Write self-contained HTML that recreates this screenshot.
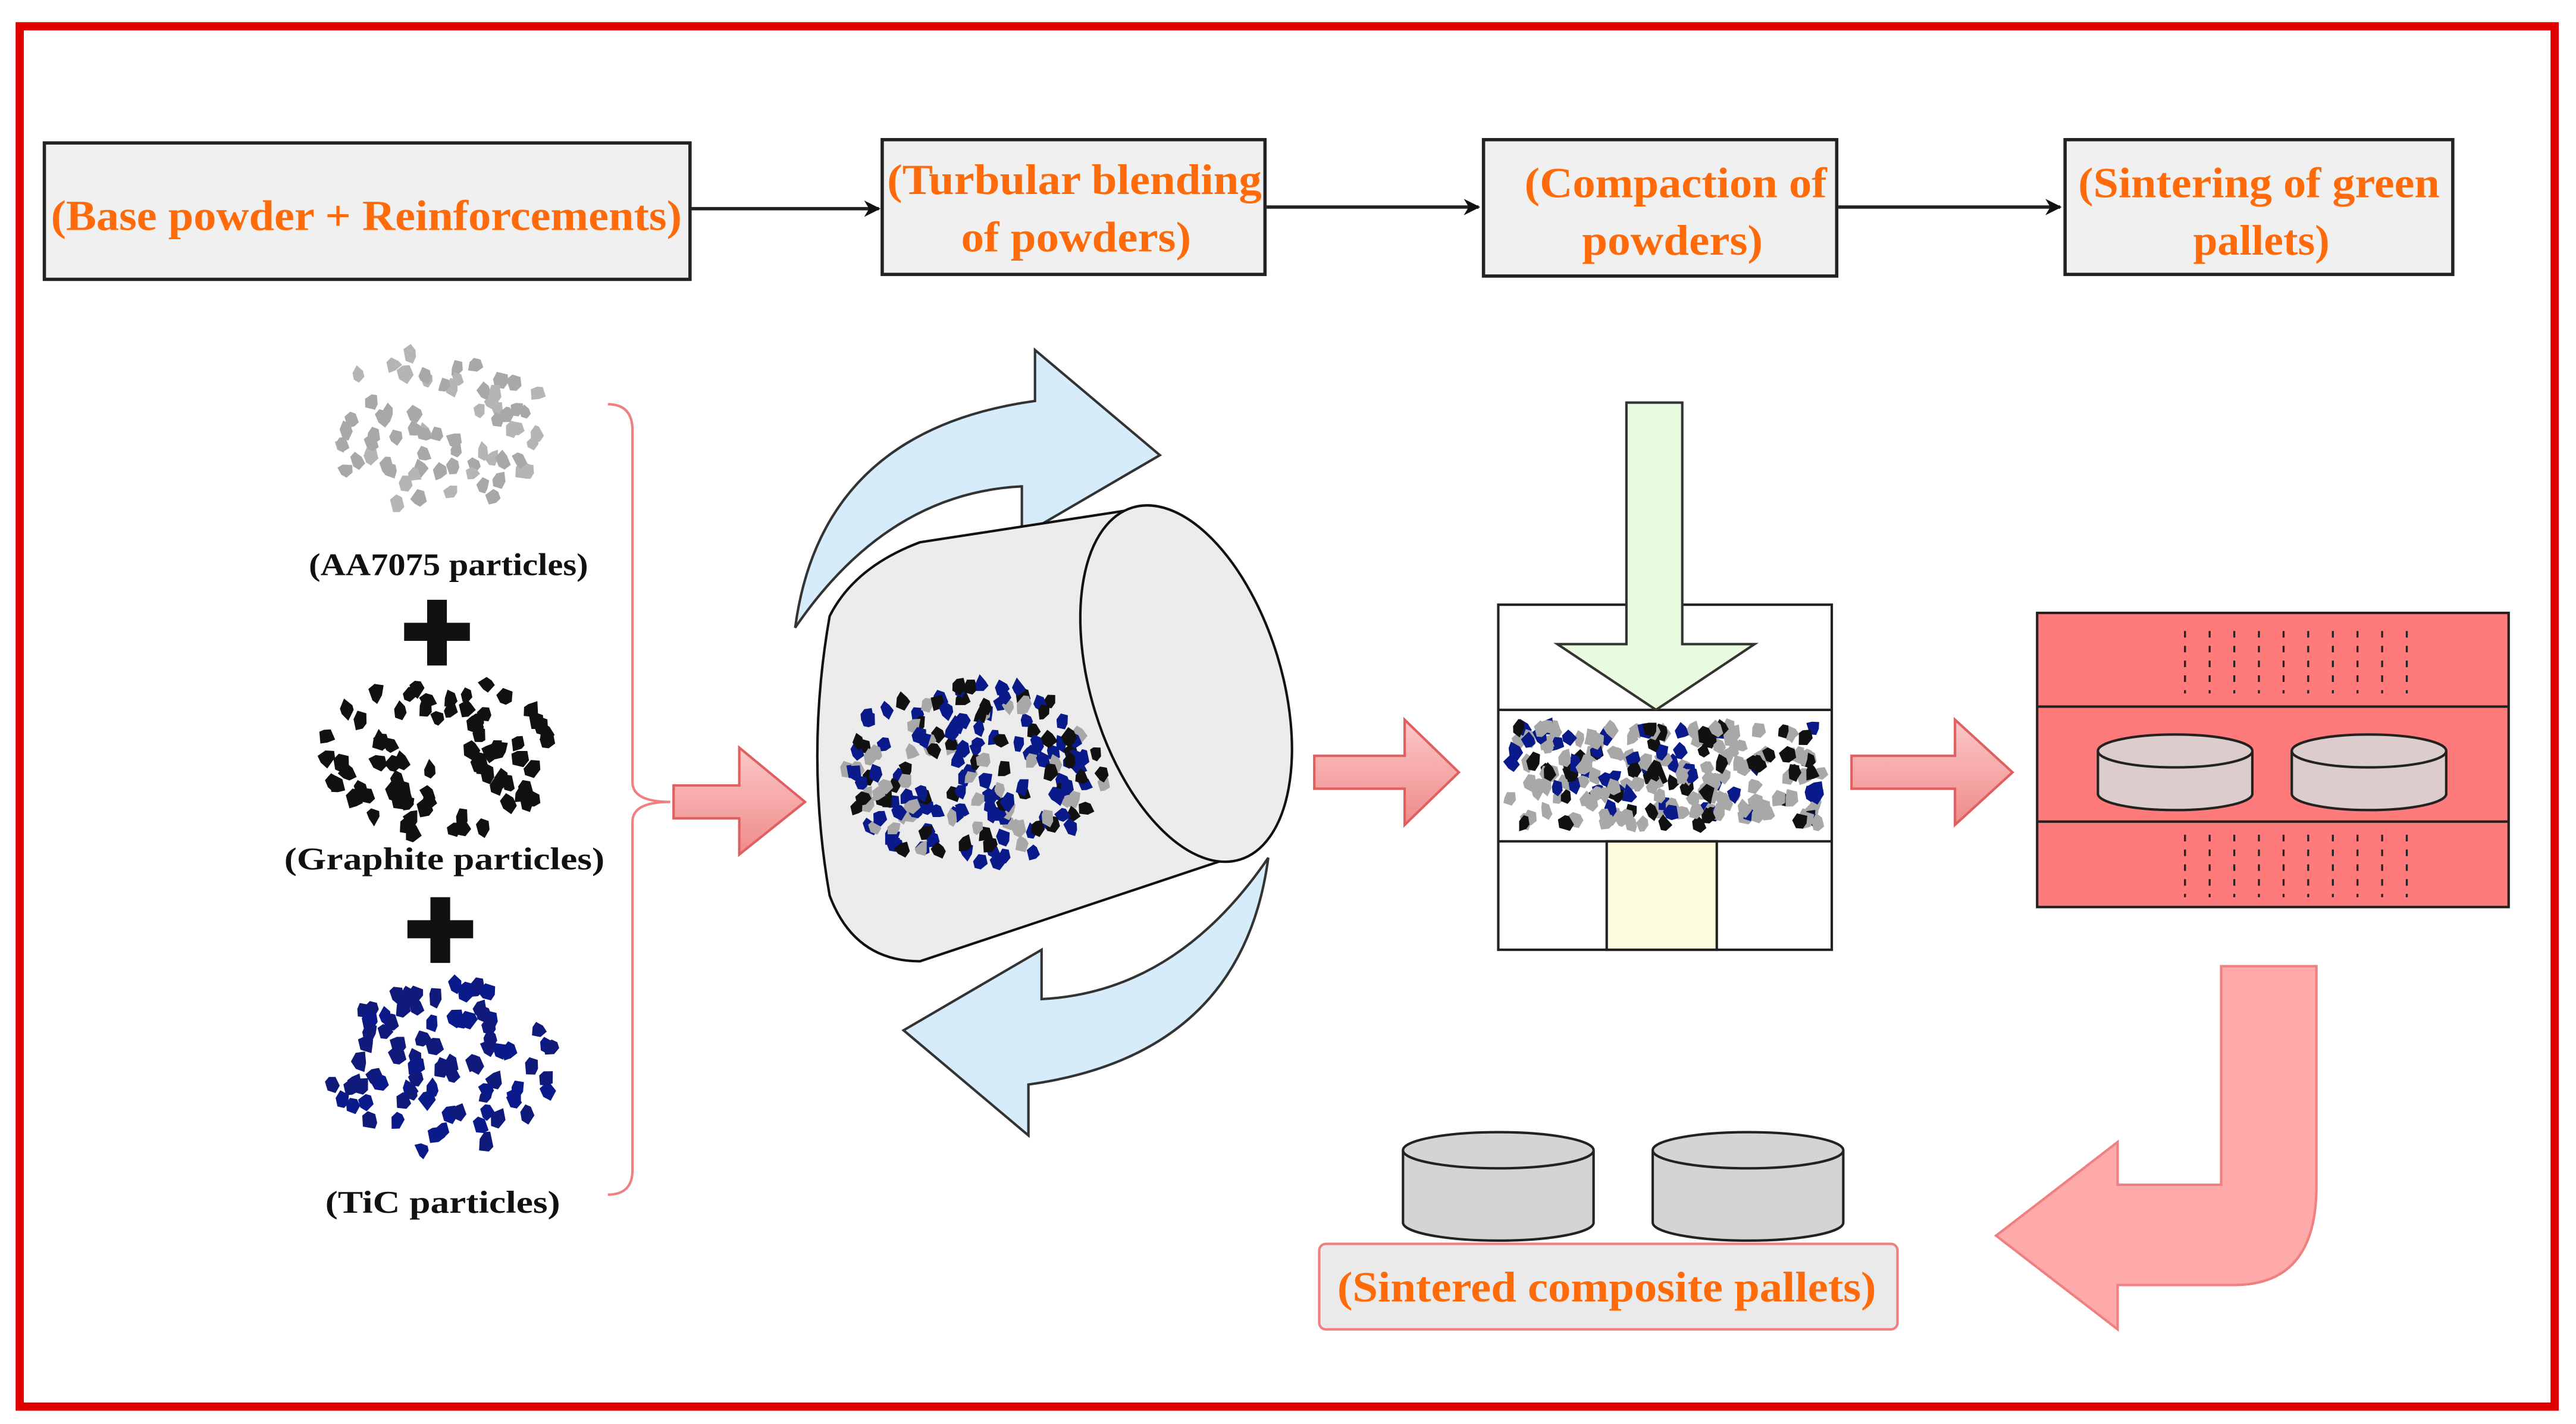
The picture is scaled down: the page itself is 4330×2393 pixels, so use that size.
<!DOCTYPE html>
<html><head><meta charset="utf-8">
<style>
html,body{margin:0;padding:0;background:#fff;}
svg{display:block;}
.t{font-family:"Liberation Serif",serif;font-weight:bold;fill:#ff6a0a;font-size:26px;}
.l{font-family:"Liberation Serif",serif;font-weight:bold;fill:#111;font-size:19px;}
</style></head>
<body>
<svg id="s" width="4330" height="2393" viewBox="0 0 1568 866.6" preserveAspectRatio="none" xmlns="http://www.w3.org/2000/svg">
<defs>
<linearGradient id="rg" x1="0" y1="0" x2="0" y2="1"><stop offset="0" stop-color="#fbc8c8"/><stop offset="1" stop-color="#f08a8a"/></linearGradient>
<marker id="ah" markerWidth="10" markerHeight="10" refX="9" refY="5" orient="auto" markerUnits="userSpaceOnUse"><path d="M0,0 L10,5 L0,10 L3,5 Z" fill="#111"/></marker>
</defs>
<rect x="0" y="0" width="1568" height="866.6" fill="#fff"/>
<rect x="12" y="16" width="1543" height="840" fill="none" stroke="#e00000" stroke-width="5"/>

<g stroke="#222" stroke-width="2" fill="#f0f0f0">
<rect x="27" y="87" width="393" height="83"/>
<rect x="537" y="85" width="233" height="82"/>
<rect x="903" y="85" width="215" height="83"/>
<rect x="1257" y="85" width="236" height="82"/>
</g>
<g stroke="#222" stroke-width="2" marker-end="url(#ah)">
<line x1="420" y1="127" x2="535" y2="127"/>
<line x1="771" y1="126" x2="900" y2="126"/>
<line x1="1119" y1="126" x2="1254" y2="126"/>
</g>
<text class="t" x="31" y="140" textLength="384" lengthAdjust="spacingAndGlyphs">(Base powder + Reinforcements)</text>
<text class="t" x="540" y="118" textLength="228" lengthAdjust="spacingAndGlyphs">(Turbular blending</text>
<text class="t" x="585" y="153" textLength="140" lengthAdjust="spacingAndGlyphs">of powders)</text>
<text class="t" x="928" y="120" textLength="184" lengthAdjust="spacingAndGlyphs">(Compaction of</text>
<text class="t" x="963" y="155" textLength="110" lengthAdjust="spacingAndGlyphs">powders)</text>
<text class="t" x="1265" y="120" textLength="220" lengthAdjust="spacingAndGlyphs">(Sintering of green</text>
<text class="t" x="1335" y="155" textLength="83" lengthAdjust="spacingAndGlyphs">pallets)</text>

<text class="l" x="188" y="350" textLength="170" lengthAdjust="spacingAndGlyphs">(AA7075 particles)</text>
<text class="l" x="173" y="529" textLength="195" lengthAdjust="spacingAndGlyphs">(Graphite particles)</text>
<text class="l" x="198" y="738" textLength="143" lengthAdjust="spacingAndGlyphs">(TiC particles)</text>
<g fill="#111">
<rect x="246" y="379" width="40" height="11"/><rect x="260" y="365" width="12" height="40"/>
<rect x="248" y="560" width="40" height="11"/><rect x="262" y="546" width="12" height="40"/>
</g>
<path d="M370,246 Q385,246 385,262 L385,476 Q385,488 408,488 Q385,488 385,500 L385,712 Q385,727 370,727" fill="none" stroke="#f08080" stroke-width="1.5"/>

<g fill="url(#rg)" stroke="#e06060" stroke-width="1.5">
<path d="M410,478 L450,478 L450,455 L490,488 L450,520 L450,498 L410,498 Z"/>
<path d="M800,460 L855,460 L855,438 L888,470 L855,502 L855,480 L800,480 Z"/>
<path d="M1127,460 L1190,460 L1190,438 L1225,470 L1190,502 L1190,480 L1127,480 Z"/>
</g>

<g id="ba" fill="#d6ecfa" stroke="#333" stroke-width="1.5">
<path d="M484,382 Q500,262 630,244 L630,213 L706,277 L622,326 L622,296 Q540,300 484,382 Z"/>
</g>
<use href="#ba" transform="rotate(180 628 452)"/>

<path d="M505,375 Q520,345 560,330 L690,310 L755,520 L560,585 Q520,585 505,545 Q490,460 505,375 Z" fill="#ececec" stroke="#111" stroke-width="1.5"/>
<ellipse cx="722" cy="416" rx="58" ry="112" transform="rotate(-17 722 416)" fill="#ececec" stroke="#111" stroke-width="1.5"/>
<g id="drumP"></g>

<rect x="912" y="368" width="203" height="210" fill="#fff" stroke="#222" stroke-width="1.5"/>
<rect x="978" y="512" width="67" height="66" fill="#fffde0" stroke="#222" stroke-width="1.5"/>
<line x1="912" y1="432" x2="1115" y2="432" stroke="#222" stroke-width="1.5"/>
<line x1="912" y1="512" x2="1115" y2="512" stroke="#222" stroke-width="1.5"/>
<path d="M990,245 L1024,245 L1024,392 L1068,392 L1008,432 L948,392 L990,392 Z" fill="#e6fbe0" stroke="#333" stroke-width="1.5"/>
<g id="pressP"></g>

<rect x="1240" y="373" width="287" height="179" fill="#ff7a7a" stroke="#222" stroke-width="1.5"/>
<line x1="1240" y1="430" x2="1527" y2="430" stroke="#222" stroke-width="1.5"/>
<line x1="1240" y1="500" x2="1527" y2="500" stroke="#222" stroke-width="1.5"/>
<g id="dash" stroke="#222" stroke-width="1.2" stroke-dasharray="4,5"></g>
<g fill="#dccccc" stroke="#222" stroke-width="1.5">
<path d="M1277,457 L1277,483 A47,10 0 0 0 1371,483 L1371,457"/><ellipse cx="1324" cy="457" rx="47" ry="10"/>
<path d="M1395,457 L1395,483 A47,10 0 0 0 1489,483 L1489,457"/><ellipse cx="1442" cy="457" rx="47" ry="10"/>
</g>

<path d="M1352,588 L1410,588 L1410,722 Q1410,782 1360,782 L1289,782 L1289,809 L1215,752 L1289,695 L1289,721 L1352,721 Z" fill="#ffaaaa" stroke="#f08080" stroke-width="1.5"/>

<g fill="#d4d4d4" stroke="#222" stroke-width="1.5">
<path d="M854,700 L854,744 A58,11 0 0 0 970,744 L970,700"/><ellipse cx="912" cy="700" rx="58" ry="11"/>
<path d="M1006,700 L1006,744 A58,11 0 0 0 1122,744 L1122,700"/><ellipse cx="1064" cy="700" rx="58" ry="11"/>
</g>
<rect x="803" y="757" width="352" height="52" rx="4" fill="#eaeaea" stroke="#f08080" stroke-width="1.5"/>
<text class="t" x="814" y="792" textLength="328" lengthAdjust="spacingAndGlyphs">(Sintered composite pallets)</text>

<g id="parts"></g>
</svg>
<script>
(function(){
var s=12345;function r(){s=(s*16807)%2147483647;return s/2147483647;}
var NS="http://www.w3.org/2000/svg";
function blob(g,x,y,sz,c){var p=document.createElementNS(NS,"path");var d="";var n=6;for(var i=0;i<n;i++){var a=i/n*6.283+r()*0.5;var rr=sz*(0.6+r()*0.5);d+=(i?"L":"M")+(x+Math.cos(a)*rr).toFixed(1)+","+(y+Math.sin(a)*rr*1.2).toFixed(1);}p.setAttribute("d",d+"Z");p.setAttribute("fill",c);g.appendChild(p);}
function cluster(g,cx,cy,rx,ry,n,cols,sz){for(var i=0;i<n;i++){var a=r()*6.283,d=Math.sqrt(r());blob(g,cx+Math.cos(a)*d*rx,cy+Math.sin(a)*d*ry,sz,cols[Math.floor(r()*cols.length)]);}}
var P=document.getElementById("parts");
cluster(P,265,260,70,50,70,["#a8a8a8","#b5b5b5"],5);
cluster(P,268,460,72,48,75,["#111"],5.5);
cluster(P,268,650,72,52,85,["#0a1a8a","#101a7a"],5.5);
var D=document.getElementById("drumP");
cluster(D,592,470,82,55,190,["#0a1a8a","#111","#a8a8a8","#0a1a8a"],5);
var Q=document.getElementById("pressP");
for(var i=0;i<230;i++){blob(Q,918+r()*192,442+r()*60,5,["#0a1a8a","#111","#a8a8a8","#a8a8a8"][Math.floor(r()*4)]);}
var G=document.getElementById("dash");
for(var x=1330;x<=1470;x+=15){var l=document.createElementNS(NS,"line");l.setAttribute("x1",x);l.setAttribute("x2",x);l.setAttribute("y1",384);l.setAttribute("y2",422);G.appendChild(l);
var m=document.createElementNS(NS,"line");m.setAttribute("x1",x);m.setAttribute("x2",x);m.setAttribute("y1",508);m.setAttribute("y2",546);G.appendChild(m);}
})();
</script>
</body></html>
